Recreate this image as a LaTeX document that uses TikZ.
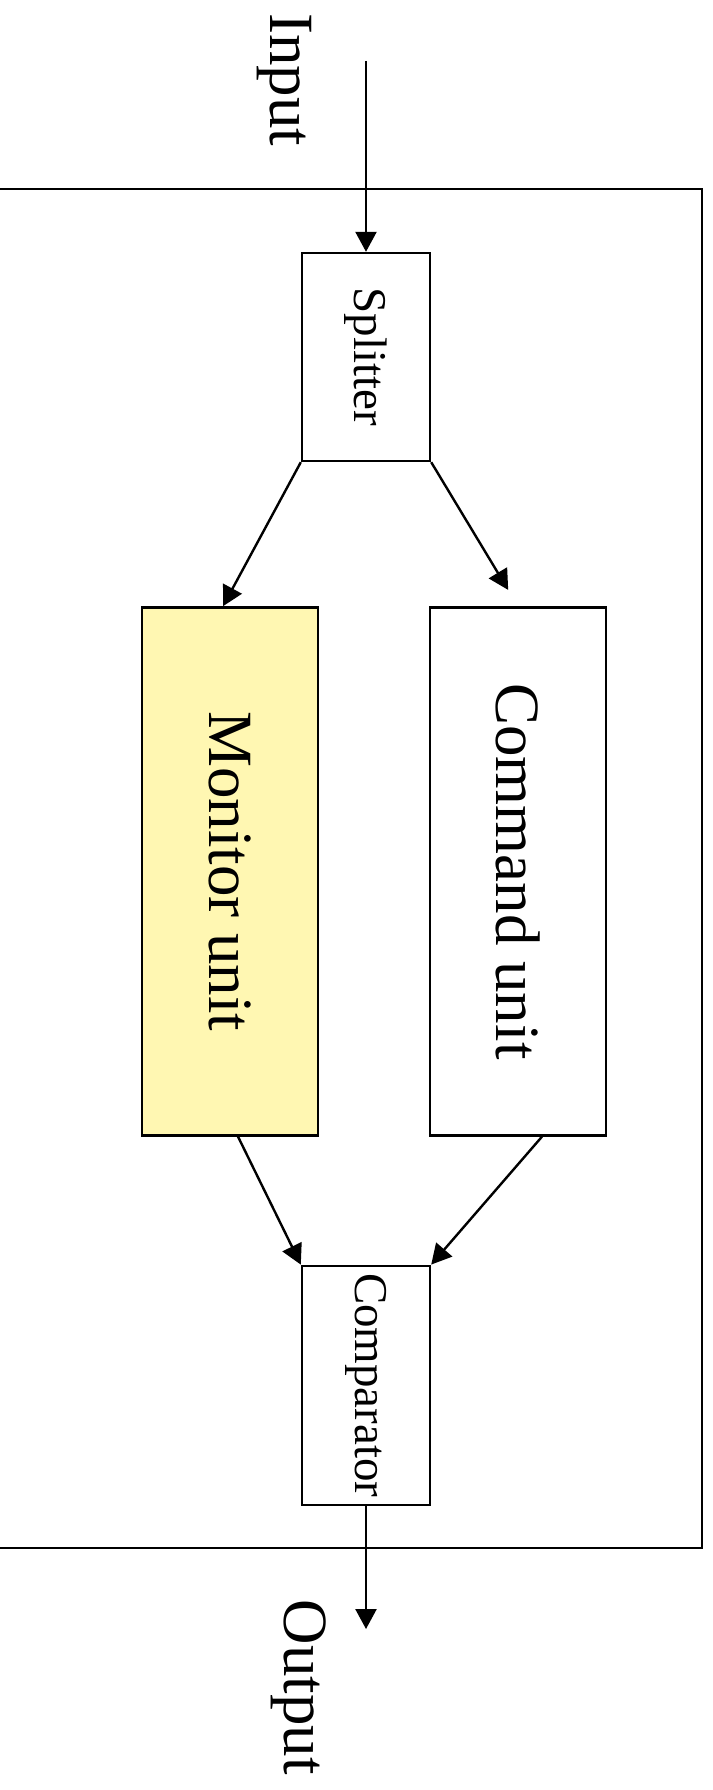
\documentclass[tikz,border=0pt]{standalone}
\usepackage{fontspec}
\setmainfont{Liberation Serif}
\usepackage{graphicx}
\usetikzlibrary{arrows.meta, positioning}

\definecolor{monitorfill}{RGB}{255,247,178}

\begin{document}
\begin{tikzpicture}[x=1pt, y=-1pt, line width=2.4pt,
  >={Triangle[length=20pt, width=21pt]},
  block/.style={draw, rectangle, inner sep=0pt},
  small/.style={font=\fontsize{47}{56}\selectfont},
  big/.style={font=\fontsize{63}{76}\selectfont}]
  \useasboundingbox (0,0) rectangle (712,1790);%

  \node [block, minimum width=712pt, minimum height=1359pt] (sys) at
  (346,868.5) {};%

  \node [block, small, minimum width=128pt, minimum height=208pt] (split) at
  (366,357) {\rotatebox{-90}{Splitter}};%
  \node [block, big, fill=monitorfill, minimum width=176pt, minimum
  height=528pt, below=144pt of split, xshift=-136pt] (monitor)
  {\rotatebox{-90}{Monitor unit}};%
  \node [block, big, minimum width=176pt, minimum height=528pt,
  below=144pt of split, xshift=152pt] (command)
  {\rotatebox{-90}{Command unit}};%
  \node [block, small, minimum width=128pt, minimum height=239pt,
  below=128pt of monitor, xshift=136pt] (comp)
  {\rotatebox{-90}{Comparator}};%

  \node [big] (inlabel) at (284,80) {\rotatebox{-90}{Input}};%
  \node [big] (outlabel) at (299,1687) {\rotatebox{-90}{Output}};%
  \coordinate (in) at (366,61);%
  \coordinate (out) at (366,1629);%

  \draw [->] (in) -- (split.north);%
  \draw [->] (split.south west) -- ([xshift=-7pt]monitor.north);%
  \draw [->, shorten >=19pt] (split.south east) -- (command.north);%
  \draw [->] ([xshift=8pt]monitor.south) -- (comp.north west);%
  \draw [->] ([xshift=24pt]command.south) -- (comp.north east);%
  \draw [->] (comp.south) -- (out);%

\end{tikzpicture}
\end{document}
